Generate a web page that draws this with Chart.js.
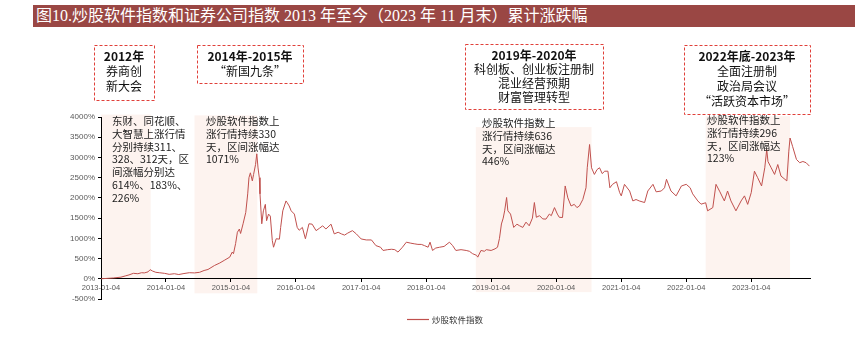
<!DOCTYPE html>
<html>
<head>
<meta charset="utf-8">
<script src="https://cdn.jsdelivr.net/npm/chart.js@4.4.0/dist/chart.umd.min.js"></script>
<style>
  html, body { margin: 0; padding: 0; background: #fff; }
  #wrap { position: relative; width: 864px; height: 344px; overflow: hidden; }
  #chart { position: absolute; left: 0; top: 0; }
  #title {
    position: absolute; left: 33px; top: 5px; width: 822px; height: 22px;
    box-sizing: border-box; padding-left: 3px;
    background: #9a4744; color: #fff; white-space: nowrap;
    font: 16px/22px "Liberation Serif", "Noto Sans CJK SC", serif;
  }
</style>
</head>
<body>
<div id="wrap">
  <canvas id="chart" width="864" height="344"></canvas>
  <div id="title">图10.炒股软件指数和证券公司指数 2013 年至今（2023 年 11 月末）累计涨跌幅</div>
</div>
<script>
'use strict';

// 炒股软件指数 cumulative change since 2013-01-04 (%)
const dates = [
  '2013-01-04','2013-02-01','2013-03-15','2013-04-26','2013-05-20','2013-06-10','2013-07-05','2013-07-30','2013-08-20','2013-09-04','2013-09-25','2013-10-07','2013-10-21','2013-11-08','2013-11-27','2013-12-26',
  '2014-01-22','2014-02-20','2014-03-17','2014-04-15','2014-05-15','2014-06-13','2014-07-12','2014-08-06','2014-08-28','2014-10-04','2014-11-02','2014-11-27','2014-12-28',
  '2015-01-11','2015-01-18','2015-01-30','2015-02-09','2015-02-20','2015-02-27','2015-03-13','2015-03-28','2015-04-08','2015-04-15','2015-04-23','2015-05-04','2015-05-11','2015-05-22','2015-05-29','2015-06-05','2015-06-12','2015-06-16','2015-06-26','2015-07-05','2015-07-16','2015-07-23','2015-08-03','2015-08-13','2015-08-24','2015-08-31','2015-09-15','2015-10-03','2015-10-10','2015-10-22','2015-11-09','2015-11-16','2015-11-27','2015-12-08','2015-12-26',
  '2016-01-11','2016-01-22','2016-02-09','2016-02-26','2016-03-17','2016-04-04','2016-04-26','2016-05-15','2016-06-02','2016-06-20','2016-07-19','2016-08-06','2016-08-28','2016-09-15','2016-10-03','2016-10-21','2016-11-16','2016-12-08',
  '2017-01-04','2017-02-02','2017-03-03','2017-03-28','2017-04-23','2017-05-07','2017-06-02','2017-06-24','2017-07-12','2017-07-30','2017-08-24','2017-09-15','2017-10-10','2017-10-29','2017-11-19','2017-12-08','2017-12-26',
  '2018-01-15','2018-01-26','2018-02-09','2018-02-27','2018-03-21','2018-04-15','2018-05-15','2018-06-02','2018-06-20','2018-07-19','2018-08-17','2018-09-04','2018-09-22','2018-10-14','2018-10-21','2018-11-08','2018-11-27','2018-12-08',
  '2019-01-04','2019-01-26','2019-02-09','2019-02-20','2019-03-03','2019-03-13','2019-03-21','2019-04-01','2019-04-08','2019-04-23','2019-05-11','2019-05-29','2019-06-13','2019-07-01','2019-07-19','2019-08-06','2019-08-24','2019-09-04','2019-09-15','2019-10-03','2019-10-21','2019-11-08','2019-11-27','2019-12-08','2019-12-26',
  '2020-01-11','2020-01-22','2020-02-09','2020-02-24','2020-03-10','2020-03-28','2020-04-15','2020-04-30','2020-05-14','2020-06-02','2020-06-20','2020-06-27','2020-07-10','2020-07-21','2020-08-06','2020-08-21','2020-09-04','2020-09-19','2020-10-03','2020-10-21','2020-11-01','2020-11-16','2020-12-08','2020-12-26',
  '2021-01-04','2021-01-22','2021-02-20','2021-03-10','2021-03-28','2021-04-15','2021-05-15','2021-06-02','2021-07-01','2021-07-19','2021-08-17','2021-09-04','2021-09-15','2021-10-10','2021-11-08','2021-12-08',
  '2022-01-04','2022-01-26','2022-02-09','2022-03-10','2022-03-28','2022-04-23','2022-05-04','2022-06-02','2022-06-20','2022-07-12','2022-08-06','2022-08-24','2022-09-12','2022-10-10','2022-11-08','2022-11-27','2022-12-15',
  '2023-01-04','2023-01-22','2023-02-09','2023-03-03','2023-03-21','2023-04-01','2023-04-08','2023-04-26','2023-05-15','2023-06-02','2023-06-20','2023-07-12','2023-07-23','2023-08-03','2023-08-10','2023-08-24','2023-09-15','2023-10-03','2023-10-21','2023-11-08','2023-11-27'
];
const values = [
  0, 8, 20, 40, 70, 95, 135, 125, 150, 145, 170, 225, 190, 160, 150, 135,
  110, 125, 105, 130, 150, 145, 160, 205, 230, 330, 390, 455, 535,
  660, 620, 870, 1150, 1230, 1120, 1360, 1640, 2100, 2500, 2620, 2420, 2580, 2825, 3090, 2740, 2500, 2100, 1360, 1680, 1840, 1435, 1600, 1550, 945, 780, 990, 980, 1270, 1680, 1925, 1880, 1800, 1680, 1600,
  1270, 1200, 1270, 990, 1360, 1350, 1190, 1250, 1310, 1230, 1350, 1110, 1150, 1110, 1080, 1130, 1190, 1110,
  985, 960, 960, 820, 780, 700, 720, 730, 720, 660, 780, 905, 880, 865, 850, 850, 820,
  780, 905, 700, 760, 780, 800, 905, 820, 700, 720, 700, 680, 620, 580, 535, 700, 680, 720,
  700, 740, 780, 1000, 1355, 1500, 1680, 2010, 1680, 1600, 1270, 1350, 1310, 1270, 1400, 1310, 1500, 1885, 1520, 1560, 1480, 1475, 1600, 1560, 1760,
  1600, 1520, 1515, 2295, 2000, 1800, 1840, 1760, 1800, 1960, 2250, 2745, 3320, 2745, 2580, 2700, 2745, 2600, 2660, 2660, 2250, 2335, 2400, 2130,
  2050, 2335, 2170, 1925, 1960, 1925, 1885, 2170, 2335, 2150, 2170, 2250, 2460, 2170, 2050, 2295,
  2335, 2250, 2100, 1925, 1845, 1880, 1680, 1760, 2335, 2150, 1925, 2170, 1925, 1680, 1925, 2050, 1840,
  2130, 2660, 2500, 2295, 2745, 3195, 2900, 2745, 2580, 2825, 2540, 2460, 2420, 3155, 3480, 3275, 2950, 2870, 2900, 2870, 2785
];
const tickDates = ['2013-01-04','2014-01-04','2015-01-04','2016-01-04','2017-01-04','2018-01-04',
                   '2019-01-04','2020-01-04','2021-01-04','2022-01-04','2023-01-04'];
const endDate = '2023-11-30';
const seriesName = '炒股软件指数';

const LINE = '#c0504d';
const DAY0 = Date.parse('2013-01-04');
const toT = d => (Date.parse(d) - DAY0) / (365.25 * 86400000);

// rally periods shaded behind the line, with their notes
const bands = [
  { from: '2013-01-04', to: '2013-10-10', top: 4060, bottom: 0, tx: 112, ty: 121,
    text: ['东财、同花顺、', '大智慧上涨行情', '分别持续311、', '328、312天，区', '间涨幅分别达', '614%、183%、', '226%'] },
  { from: '2014-06-13', to: '2015-06-01', top: 4040, bottom: -360, tx: 206, ty: 121,
    text: ['炒股软件指数上', '涨行情持续330', '天，区间涨幅达', '1071%'] },
  { from: '2018-10-10', to: '2020-07-21', top: 3750, bottom: -330, tx: 482, ty: 123,
    text: ['炒股软件指数上', '涨行情持续636', '天，区间涨幅达', '446%'] },
  { from: '2022-04-23', to: '2023-08-10', top: 4020, bottom: 0, tx: 707, ty: 120,
    text: ['炒股软件指数上', '涨行情持续296', '天，区间涨幅达', '123%'] }
];

// policy call-outs in dashed frames
const callouts = [
  { x: 94, y: 45, w: 60, h: 55, lh: 15, lines: ['2012年', '券商创', '新大会'] },
  { x: 197, y: 45, w: 106, h: 38, lh: 15, lines: ['2014年-2015年', '“新国九条”'] },
  { x: 465, y: 44, w: 138, h: 65, lh: 14, lines: ['2019年-2020年', '科创板、创业板注册制', '混业经营预期', '财富管理转型'] },
  { x: 684, y: 45, w: 126, h: 69, lh: 15, lines: ['2022年底-2023年', '全面注册制', '政治局会议', '“活跃资本市场”'] }
];

const CJK = '"Noto Sans CJK SC", "Liberation Sans", sans-serif';

const decor = {
  id: 'decor',
  beforeDraw(chart) {
    const { ctx, scales: { x, y } } = chart;
    ctx.save();
    ctx.fillStyle = '#fdf3ef';
    bands.forEach(b => {
      const x0 = x.getPixelForValue(toT(b.from));
      const x1 = x.getPixelForValue(toT(b.to));
      const y0 = y.getPixelForValue(b.top);
      const y1 = y.getPixelForValue(b.bottom);
      ctx.fillRect(x0, y0, x1 - x0, y1 - y0);
    });
    ctx.restore();
  },
  afterDatasetsDraw(chart) {
    const { ctx } = chart;
    ctx.save();

    // notes inside the shaded periods
    ctx.fillStyle = '#222';
    ctx.font = '10.5px ' + CJK;
    ctx.textAlign = 'left';
    ctx.textBaseline = 'middle';
    bands.forEach(b => {
      b.text.forEach((t, i) => ctx.fillText(t, b.tx, b.ty + i * 12.8));
    });

    // dashed call-out frames
    ctx.strokeStyle = '#e0403a';
    ctx.lineWidth = 1;
    ctx.setLineDash([3, 2]);
    callouts.forEach(c => {
      ctx.strokeRect(c.x + 0.5, c.y + 0.5, c.w, c.h);
      ctx.textAlign = 'center';
      c.lines.forEach((t, i) => {
        ctx.font = (i === 0 ? 'bold ' : '') + '12px ' + CJK;
        ctx.fillStyle = '#111';
        ctx.fillText(t, c.x + c.w / 2, c.y + 11 + i * c.lh);
      });
    });
    ctx.setLineDash([]);

    // legend
    ctx.strokeStyle = LINE;
    ctx.lineWidth = 1.2;
    ctx.beginPath();
    ctx.moveTo(407, 319.5);
    ctx.lineTo(429, 319.5);
    ctx.stroke();
    ctx.fillStyle = '#333';
    ctx.font = '8.5px ' + CJK;
    ctx.textAlign = 'left';
    ctx.fillText(seriesName, 432, 319.5);
    ctx.restore();
  }
};

new Chart(document.getElementById('chart'), {
  type: 'line',
  data: {
    datasets: [{
      label: seriesName,
      data: dates.map((d, i) => ({ x: toT(d), y: values[i] })),
      borderColor: LINE,
      borderWidth: 1,
      pointRadius: 0,
      tension: 0,
      fill: false
    }]
  },
  options: {
    responsive: false,
    animation: false,
    events: [],
    layout: { padding: { top: 117, right: 54, bottom: 45, left: 0 } },
    plugins: { legend: { display: false }, tooltip: { enabled: false } },
    scales: {
      x: {
        type: 'linear',
        position: { y: 0 },
        min: 0,
        max: toT(endDate),
        afterBuildTicks: s => { s.ticks = tickDates.map(d => ({ value: toT(d) })); },
        ticks: {
          autoSkip: false,
          maxRotation: 0,
          padding: 2,
          color: '#595959',
          font: { family: 'Liberation Sans', size: 7.5 },
          callback: (v, i) => tickDates[i]
        },
        grid: { drawOnChartArea: false, drawTicks: true, tickLength: 3, color: '#000' },
        border: { color: '#000', width: 1 }
      },
      y: {
        min: -500,
        max: 4000,
        afterFit: s => { s.width = 101; },
        ticks: {
          stepSize: 500,
          padding: 3,
          color: '#595959',
          font: { family: 'Liberation Sans', size: 8 },
          callback: v => v + '%'
        },
        grid: { drawOnChartArea: false, drawTicks: true, tickLength: 3, color: '#000' },
        border: { color: '#000', width: 1 }
      }
    }
  },
  plugins: [decor]
});
</script>
</body>
</html>
